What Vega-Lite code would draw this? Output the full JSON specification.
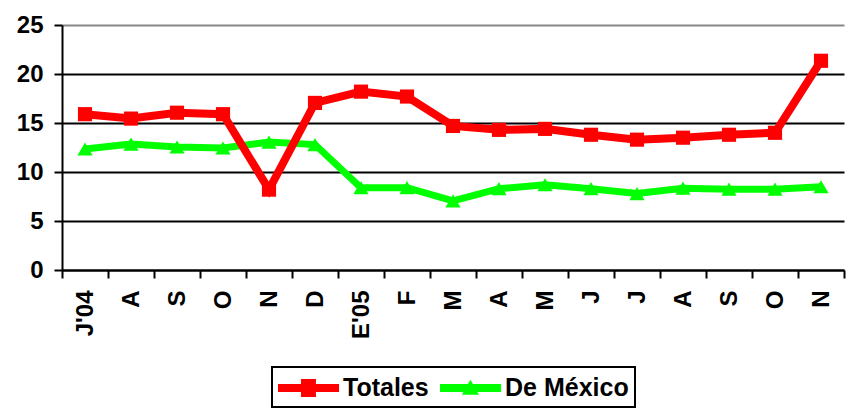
{
  "$schema": "https://vega.github.io/schema/vega-lite/v6.json",
  "width": 782,
  "height": 245,
  "autosize": {"type": "none"},
  "padding": {"left": 62, "top": 25, "right": 8, "bottom": 139},
  "background": "white",
  "config": {
    "view": {"stroke": null},
    "font": "Liberation Sans"
  },
  "data": {
    "values": [
      {"fecha": "2004-07-01", "serie": "Totales", "v": 15.9},
      {"fecha": "2004-08-01", "serie": "Totales", "v": 15.45},
      {"fecha": "2004-09-01", "serie": "Totales", "v": 16.05},
      {"fecha": "2004-10-01", "serie": "Totales", "v": 15.9},
      {"fecha": "2004-11-01", "serie": "Totales", "v": 8.2},
      {"fecha": "2004-12-01", "serie": "Totales", "v": 17.05},
      {"fecha": "2005-01-01", "serie": "Totales", "v": 18.2},
      {"fecha": "2005-02-01", "serie": "Totales", "v": 17.7},
      {"fecha": "2005-03-01", "serie": "Totales", "v": 14.7},
      {"fecha": "2005-04-01", "serie": "Totales", "v": 14.3},
      {"fecha": "2005-05-01", "serie": "Totales", "v": 14.4},
      {"fecha": "2005-06-01", "serie": "Totales", "v": 13.8},
      {"fecha": "2005-07-01", "serie": "Totales", "v": 13.3},
      {"fecha": "2005-08-01", "serie": "Totales", "v": 13.5},
      {"fecha": "2005-09-01", "serie": "Totales", "v": 13.8},
      {"fecha": "2005-10-01", "serie": "Totales", "v": 14.0},
      {"fecha": "2005-11-01", "serie": "Totales", "v": 21.35},
      {"fecha": "2004-07-01", "serie": "De México", "v": 12.35},
      {"fecha": "2004-08-01", "serie": "De México", "v": 12.85},
      {"fecha": "2004-09-01", "serie": "De México", "v": 12.55},
      {"fecha": "2004-10-01", "serie": "De México", "v": 12.45},
      {"fecha": "2004-11-01", "serie": "De México", "v": 13.05},
      {"fecha": "2004-12-01", "serie": "De México", "v": 12.8},
      {"fecha": "2005-01-01", "serie": "De México", "v": 8.4},
      {"fecha": "2005-02-01", "serie": "De México", "v": 8.4},
      {"fecha": "2005-03-01", "serie": "De México", "v": 7.05},
      {"fecha": "2005-04-01", "serie": "De México", "v": 8.3},
      {"fecha": "2005-05-01", "serie": "De México", "v": 8.7},
      {"fecha": "2005-06-01", "serie": "De México", "v": 8.3},
      {"fecha": "2005-07-01", "serie": "De México", "v": 7.8},
      {"fecha": "2005-08-01", "serie": "De México", "v": 8.35},
      {"fecha": "2005-09-01", "serie": "De México", "v": 8.25},
      {"fecha": "2005-10-01", "serie": "De México", "v": 8.25},
      {"fecha": "2005-11-01", "serie": "De México", "v": 8.5}
    ]
  },
  "encoding": {
    "x": {
      "field": "fecha",
      "timeUnit": "utcyearmonth",
      "type": "ordinal",
      "scale": {"type": "band", "paddingInner": 0, "paddingOuter": 0},
      "axis": {
        "title": null,
        "labelAngle": 270,
        "labelFontSize": 24,
        "labelFontWeight": "bold",
        "labelColor": "black",
        "labelPadding": 12,
        "tickBand": "extent",
        "tickSize": 8,
        "tickColor": "black",
        "tickWidth": 2,
        "domainColor": "black",
        "domainWidth": 2,
        "grid": false,
        "labelExpr": "utcyear(datum.value) == 2004 && utcmonth(datum.value) == 6 ? \"J'04\" : (utcmonth(datum.value) == 0 ? \"E'05\" : ['E','F','M','A','M','J','J','A','S','O','N','D'][utcmonth(datum.value)])"
      }
    },
    "y": {
      "field": "v",
      "type": "quantitative",
      "scale": {"domain": [0, 25], "nice": false},
      "axis": {
        "title": null,
        "values": [0, 5, 10, 15, 20, 25],
        "labelFontSize": 24,
        "labelFontWeight": "bold",
        "labelColor": "black",
        "labelPadding": 11,
        "tickSize": 8,
        "tickColor": "black",
        "tickWidth": 2,
        "domainColor": "black",
        "domainWidth": 2,
        "grid": true,
        "gridWidth": 2,
        "gridColor": {"condition": {"test": "datum.value === 25", "value": "#888888"}, "value": "black"}
      }
    },
    "color": {
      "field": "serie",
      "type": "nominal",
      "scale": {"domain": ["Totales", "De México"], "range": ["#ff0000", "#00ff00"]},
      "legend": {
        "title": null,
        "orient": "none",
        "legendX": 210,
        "legendY": 342,
        "direction": "horizontal",
        "padding": 6,
        "strokeColor": "black",
        "labelFontSize": 25,
        "labelFontWeight": "bold",
        "labelColor": "black",
        "labelLimit": 0,
        "labelOffset": 35,
        "columnPadding": 11,
        "symbolSize": 900,
        "symbolStrokeWidth": 0,
        "encode": {
          "legend": {"update": {"strokeWidth": {"value": 2}, "width": {"value": 365}, "height": {"value": 52}}},
          "symbols": {
            "update": {
              "shape": {"signal": "datum.value === 'Totales' ? 'M-1,-0.27H3.07V0.27H-1Z M0.53,-0.6H1.53V0.6H0.53Z' : 'M-1,-0.27H3.07V0.27H-1Z M1.03,-0.55L1.6,0.45H0.46Z'"},
              "fill": {"signal": "datum.value === 'Totales' ? '#ff0000' : '#00ff00'"},
              "strokeWidth": {"value": 0},
              "opacity": {"value": 1}
            }
          }
        }
      }
    }
  },
  "layer": [
    {
      "transform": [{"filter": "datum.serie === 'De México'"}],
      "layer": [
        {"mark": {"type": "line", "strokeWidth": 7}},
        {"mark": {"type": "point", "shape": "triangle-up", "filled": true, "size": 230, "opacity": 1}}
      ]
    },
    {
      "transform": [{"filter": "datum.serie === 'Totales'"}],
      "layer": [
        {"mark": {"type": "line", "strokeWidth": 8}},
        {"mark": {"type": "point", "shape": "square", "filled": true, "size": 200, "opacity": 1}}
      ]
    }
  ]
}
